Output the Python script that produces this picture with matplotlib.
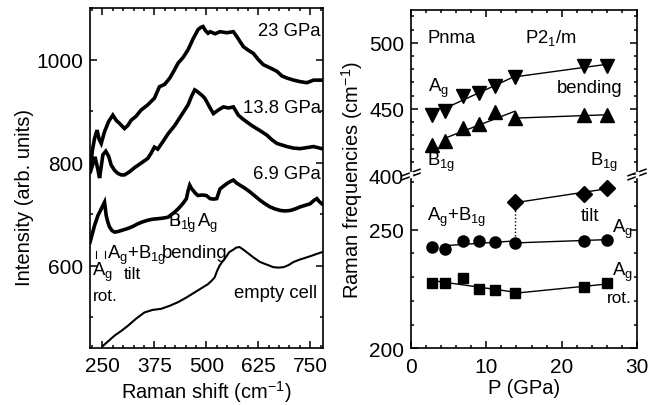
import numpy as np
import matplotlib
matplotlib.use('Agg')
import matplotlib.pyplot as plt
from matplotlib.ticker import MultipleLocator
from matplotlib.lines import Line2D

plt.rcParams['font.family'] = ['Liberation Sans', 'DejaVu Sans']
plt.rcParams['mathtext.fontset'] = 'custom'
plt.rcParams['mathtext.rm'] = 'Liberation Sans'
plt.rcParams['mathtext.it'] = 'Liberation Sans:italic'
plt.rcParams['mathtext.bf'] = 'Liberation Sans:bold'

# ---------------- left panel: Raman spectra ----------------
shift_23 = [221, 226, 231, 237, 242, 247, 255, 265, 275, 283, 291, 303, 311, 319, 331, 343,
            359, 375, 381, 387, 400, 412, 422, 432, 444, 456, 468, 480, 486, 492, 498, 504,
            509, 521, 533, 549, 565, 573, 581, 589, 601, 613, 625, 637, 653, 670, 682, 694,
            710, 726, 742, 758, 778]
int_23 = [790, 825, 847, 863, 845, 837, 860, 880, 892, 882, 876, 866, 872, 882, 890, 902,
          912, 925, 936, 947, 952, 964, 978, 993, 1004, 1019, 1040, 1058, 1062, 1064, 1056, 1051,
          1054, 1050, 1054, 1052, 1054, 1045, 1035, 1025, 1018, 1012, 1000, 990, 984, 977, 968, 964,
          960, 957, 955, 960, 960]

shift_13 = [221, 228, 232, 238, 243, 251, 258, 265, 271, 279, 287, 295, 303, 315, 327, 336,
            345, 359, 367, 375, 383, 395, 408, 424, 440, 456, 464, 472, 478, 484, 490, 496,
            501, 509, 517, 529, 541, 553, 565, 577, 587, 597, 609, 621, 633, 646, 658, 670,
            682, 694, 710, 726, 742, 758, 778]
int_13 = [782, 800, 811, 790, 770, 815, 822, 812, 795, 785, 779, 776, 776, 782, 790, 795,
          800, 808, 818, 830, 826, 840, 856, 872, 892, 912, 928, 941, 938, 934, 930, 925,
          918, 906, 895, 902, 908, 906, 908, 892, 885, 879, 872, 866, 860, 853, 844, 837,
          834, 831, 828, 827, 829, 831, 827]

shift_69 = [220, 231, 239, 247, 255, 259, 263, 267, 273, 279, 287, 295, 303, 311, 323, 335,
            347, 359, 371, 383, 395, 408, 416, 424, 432, 440, 446, 452, 456, 460, 464, 468,
            474, 480, 490, 500, 509, 517, 525, 533, 541, 549, 557, 565, 573, 581, 593, 605,
            617, 629, 641, 653, 665, 678, 690, 702, 714, 726, 738, 750, 758, 766, 772, 778]
int_69 = [645, 678, 697, 710, 723, 697, 684, 675, 668, 665, 666, 668, 670, 672, 676, 681,
          685, 688, 690, 691, 692, 694, 699, 704, 710, 717, 723, 730, 745, 756, 750, 746,
          740, 736, 737, 736, 730, 729, 730, 749, 754, 759, 763, 766, 760, 756, 750, 743,
          735, 727, 720, 714, 710, 707, 706, 707, 710, 714, 717, 720, 726, 730, 724, 720]

shift_empty = [251, 265, 279, 295, 311, 331, 351, 371, 391, 412, 432, 452, 472, 488, 504,
               512, 520, 526, 532, 538, 545, 555, 565, 572, 580, 589, 597, 613, 629, 645,
               661, 673, 686, 698, 710, 726, 742, 760, 778]
int_empty = [444, 454, 464, 473, 483, 497, 509, 514, 516, 522, 529, 538, 548, 556, 564,
             570, 577, 590, 600, 607, 614, 626, 631, 635, 636, 631, 626, 616, 607, 602,
             597, 596, 597, 601, 607, 612, 616, 621, 626]

spectrum_labels = ['23 GPa', '13.8 GPa', '6.9 GPa', 'empty cell']

# ---------------- right panel: frequencies vs pressure ----------------
P_pts = [2.75, 4.5, 6.95, 9.05, 11.1, 13.8, 23.0, 26.0]
bend_Ag = [445.5, 448.7, 459.6, 462.1, 467.6, 473.9, 482.7, 482.7]
bend_B1g = [422.9, 425.4, 435.4, 438.7, 448.0, 443.0, 445.0, 445.5]
tilt_Ag = [242.8, 241.9, 245.1, 245.1, 244.7, 244.4, 245.4, 245.8]
rot_Ag = [227.4, 227.4, 229.8, 225.0, 224.4, 223.3, 225.7, 227.4]
P_tiltB = [13.8, 23.0, 26.0]
tilt_B1g = [261.5, 265.1, 267.7]
P_transition = 13.8

W, H = 649, 406
fig = plt.figure(figsize=(W / 100, H / 100), dpi=100)


def fbox(l, t, r, b):
    return [l / W, (H - b) / H, (r - l) / W, (b - t) / H]


TICK = 15
ANN = 13.3
LAB = 14.5

axL = fig.add_axes(fbox(90, 9, 322.7, 349))
for x, y, lw in [(shift_23, int_23, 2.6), (shift_13, int_13, 2.6),
                 (shift_69, int_69, 2.6), (shift_empty, int_empty, 1.5)]:
    axL.plot(x, y, color='black', lw=lw, solid_joinstyle='miter')
axL.set_xlim(220, 780)
axL.set_ylim(440, 1100)
axL.xaxis.set_major_locator(MultipleLocator(125))
axL.xaxis.set_minor_locator(MultipleLocator(25))
axL.yaxis.set_major_locator(MultipleLocator(200))
axL.yaxis.set_minor_locator(MultipleLocator(100))
axL.tick_params(which='both', direction='in', top=True, right=True, labelsize=TICK, width=1.1)
axL.tick_params(which='major', length=5, pad=5)
axL.tick_params(which='minor', length=2.5)
axL.tick_params(axis='x', pad=6)
for s in axL.spines.values():
    s.set_linewidth(1.2)
axL.set_xlabel(r'Raman shift (cm$^{-1}$)', fontsize=LAB, labelpad=2)
fig.text(24 / W, 1 - 197 / H, 'Intensity (arb. units)', rotation=90, fontsize=LAB,
         ha='center', va='center')

axL.text(775, 1057, spectrum_labels[0], ha='right', va='center', fontsize=ANN)
axL.text(775, 907, spectrum_labels[1], ha='right', va='center', fontsize=ANN)
axL.text(775, 779, spectrum_labels[2], ha='right', va='center', fontsize=ANN)
axL.text(766, 547, spectrum_labels[3], ha='right', va='center', fontsize=ANN)

# peak markers
for xm in (432, 456):
    axL.plot([xm, xm], [679, 694], color='black', lw=0.8)
for xm in (235.5, 255.5):
    axL.plot([xm, xm], [615, 629], color='black', lw=0.8)
axL.text(408, 683, r'B$_{\rm 1g}$', ha='left', va='center', fontsize=ANN)
axL.text(477, 683, r'A$_{\rm g}$', ha='left', va='center', fontsize=ANN)
axL.text(472, 626, 'bending', ha='center', va='center', fontsize=ANN)
axL.text(260.5, 621, r'A$_{\rm g}$+B$_{\rm 1g}$', ha='left', va='center', fontsize=ANN)
axL.text(322, 584, 'tilt', ha='center', va='center', fontsize=ANN - 1)
axL.text(224, 588, r'A$_{\rm g}$', ha='left', va='center', fontsize=ANN)
axL.text(228, 542, 'rot.', ha='left', va='center', fontsize=ANN - 1)

# ---------------- right panel (broken axis) ----------------
axU = fig.add_axes(fbox(411, 10.7, 637, 176))
axD = fig.add_axes(fbox(411, 176, 637, 349.3))

for ax in (axU, axD):
    ax.set_xlim(0, 30)
    ax.xaxis.set_major_locator(MultipleLocator(10))
    ax.xaxis.set_minor_locator(MultipleLocator(2))
    ax.tick_params(which='both', direction='in', right=True, labelsize=TICK, width=1.1)
    ax.tick_params(which='major', length=5, pad=5)
    ax.tick_params(which='minor', length=2.5)
    for s in ax.spines.values():
        s.set_linewidth(1.2)

axU.set_ylim(400, 525)
axU.yaxis.set_major_locator(MultipleLocator(50))
axU.yaxis.set_minor_locator(MultipleLocator(10))
axU.spines['bottom'].set_visible(False)
axU.tick_params(axis='x', which='both', bottom=False, top=True, labelbottom=False)

axD.set_ylim(200, 273)
axD.yaxis.set_major_locator(MultipleLocator(50))
axD.yaxis.set_minor_locator(MultipleLocator(10))
axD.spines['top'].set_visible(False)
axD.tick_params(axis='x', which='both', top=False, bottom=True, pad=6)
axD.set_xlabel('P (GPa)', fontsize=LAB, labelpad=2)

fig.text(352 / W, 1 - 180 / H, r'Raman frequencies (cm$^{-1}$)', rotation=90,
         fontsize=LAB, ha='center', va='center')


def fit_segments(ax, P, f, start_idx):
    P = np.asarray(P)
    f = np.asarray(f)
    lo = P <= P_transition
    c = np.polyfit(P[lo], f[lo], 1)
    xs = np.array([P[start_idx], P_transition])
    ax.plot(xs, np.polyval(c, xs), color='black', lw=1.0)
    hi = P >= P_transition
    c2 = np.polyfit(P[hi], f[hi], 1)
    xs2 = np.array([P_transition, P[-1]])
    ax.plot(xs2, np.polyval(c2, xs2), color='black', lw=1.0)


fit_segments(axU, P_pts, bend_Ag, 1)
fit_segments(axU, P_pts, bend_B1g, 1)
fit_segments(axD, P_pts, tilt_Ag, 1)
fit_segments(axD, P_pts, rot_Ag, 0)
c = np.polyfit(P_tiltB, tilt_B1g, 1)
xs = np.array([P_tiltB[0], P_tiltB[-1]])
axD.plot(xs, np.polyval(c, xs), color='black', lw=1.0)
axD.plot([P_transition, P_transition], [tilt_Ag[5], tilt_B1g[0]], color='black',
         lw=1.0, ls=(0, (1, 1.5)))

axU.plot(P_pts, bend_Ag, 'v', color='black', ms=10, ls='none', clip_on=False)
axU.plot(P_pts, bend_B1g, '^', color='black', ms=10, ls='none', clip_on=False)
axD.plot(P_pts, tilt_Ag, 'o', color='black', ms=8, ls='none')
axD.plot(P_pts, rot_Ag, 's', color='black', ms=7.5, ls='none')
axD.plot(P_tiltB, tilt_B1g, 'D', color='black', ms=8, ls='none')

axU.text(2.2, 504, 'Pnma', ha='left', va='center', fontsize=ANN)
axU.text(15.1, 504, r'P2$_{\rm 1}$/m', ha='left', va='center', fontsize=ANN)
axU.text(2.3, 466, r'A$_{\rm g}$', ha='left', va='center', fontsize=ANN)
axU.text(28.0, 466, 'bending', ha='right', va='center', fontsize=ANN)
axU.text(2.1, 410.5, r'B$_{\rm 1g}$', ha='left', va='center', fontsize=ANN)
axU.text(23.8, 410.5, r'B$_{\rm 1g}$', ha='left', va='center', fontsize=ANN)
axD.text(2.1, 255.5, r'A$_{\rm g}$+B$_{\rm 1g}$', ha='left', va='center', fontsize=ANN)
axD.text(23.8, 256, 'tilt', ha='center', va='center', fontsize=ANN)
axD.text(26.7, 250.5, r'A$_{\rm g}$', ha='left', va='center', fontsize=ANN)
axD.text(26.7, 232.5, r'A$_{\rm g}$', ha='left', va='center', fontsize=ANN)
axD.text(27.6, 221.5, 'rot.', ha='center', va='center', fontsize=ANN - 1)

# break marks on both spines
for xc in (411, 637):
    for yc in (173.5, 177.5):
        fig.add_artist(Line2D([(xc - 9) / W, (xc + 9) / W],
                              [1 - (yc + 3.3) / H, 1 - (yc - 3.3) / H],
                              transform=fig.transFigure, color='black', lw=1.1))
for xc in (411, 637):
    fig.add_artist(Line2D([xc / W, xc / W], [1 - 176.6 / H, 1 - 174.4 / H],
                          transform=fig.transFigure, color='white', lw=2.5))

fig.savefig('out.png', dpi=100)
